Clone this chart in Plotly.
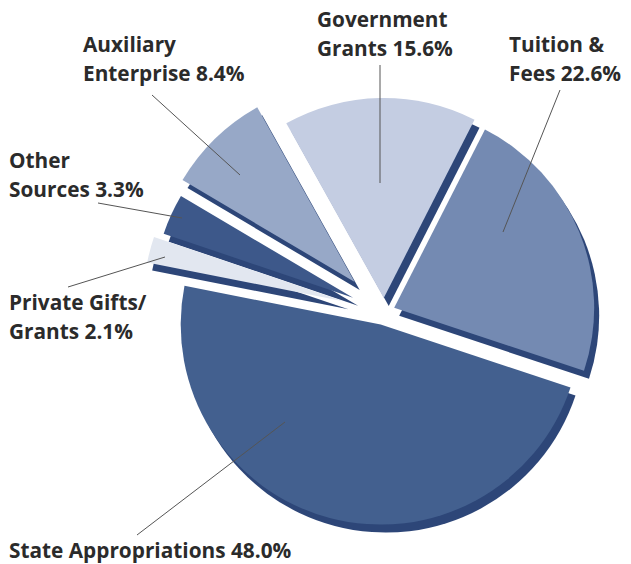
import plotly.graph_objects as go

# ---------------- data ----------------
categories = ["Tuition & Fees", "State Appropriations", "Private Gifts/Grants",
              "Other Sources", "Auxiliary Enterprise", "Government Grants"]
values = [22.6, 48.0, 2.1, 3.3, 8.4, 15.6]
# label text split in lines (value appended to last line)
label_lines = [["Tuition &", "Fees"], ["State Appropriations"], ["Private Gifts/", "Grants"],
               ["Other", "Sources"], ["Auxiliary", "Enterprise"], ["Government", "Grants"]]

# ---------------- style ----------------
W, H = 631, 564
colors = ["#748ab2", "#43608f", "#e2e7f0", "#3d588a", "#97a8c7", "#c4cde2"]
shadow_color = "#2d4678"
pulls = [0.055, 0.065, 0.21, 0.17, 0.21, 0.07]
cx, cy, r = 384, 312, 200          # pie centre / radius in px
shadow_dx, shadow_dy = 5, 8

half = r * (1 + max(pulls))


def domain(dx=0, dy=0):
    x0 = (cx + dx - half) / W
    x1 = (cx + dx + half) / W
    yb = (H - (cy + dy) - half) / H
    yt = (H - (cy + dy) + half) / H
    return dict(x=[x0, x1], y=[yb, yt])


common = dict(labels=categories, values=values, sort=False, direction="clockwise",
              rotation=27, pull=pulls, textinfo="none", hoverinfo="skip",
              showlegend=False)

fig = go.Figure()
fig.add_trace(go.Pie(**common, domain=domain(shadow_dx, shadow_dy),
                     marker=dict(colors=[shadow_color] * len(values), line=dict(width=0))))
fig.add_trace(go.Pie(**common, domain=domain(),
                     marker=dict(colors=colors, line=dict(width=0))))

# label placement (px): left x, centre y of first line
label_pos = [(507, 44), (7, 550), (7, 302), (7, 160), (81, 44), (315, 19)]
line_gap = 29
# leader lines (px): from label to slice
leaders = [((560, 90), (503, 232)), ((137, 535), (285, 422)), ((68, 287), (165, 257)),
           ((98, 203), (182, 218)), ((152, 95), (240, 175)), ((380, 65), (380, 183))]

font = dict(family="Open Sans, Liberation Sans, sans-serif", size=20.8, color="#2b2b2b", weight=700)
annotations = []
for lines, v, (lx, ly) in zip(label_lines, values, label_pos):
    for i, t in enumerate(lines):
        txt = t + (f" {v:.1f}%" if i == len(lines) - 1 else "")
        annotations.append(dict(x=lx / W, y=1 - (ly + i * line_gap) / H, xref="paper", yref="paper",
                                text=txt, showarrow=False, xanchor="left", yanchor="middle",
                                font=font))

shapes = [dict(type="line", xref="paper", yref="paper",
               x0=a[0] / W, y0=1 - a[1] / H, x1=b[0] / W, y1=1 - b[1] / H,
               line=dict(color="#555555", width=1)) for a, b in leaders]

fig.update_layout(width=W, height=H, margin=dict(l=0, r=0, t=0, b=0),
                  paper_bgcolor="white", plot_bgcolor="white",
                  annotations=annotations, shapes=shapes)

fig.write_html("out.html")
